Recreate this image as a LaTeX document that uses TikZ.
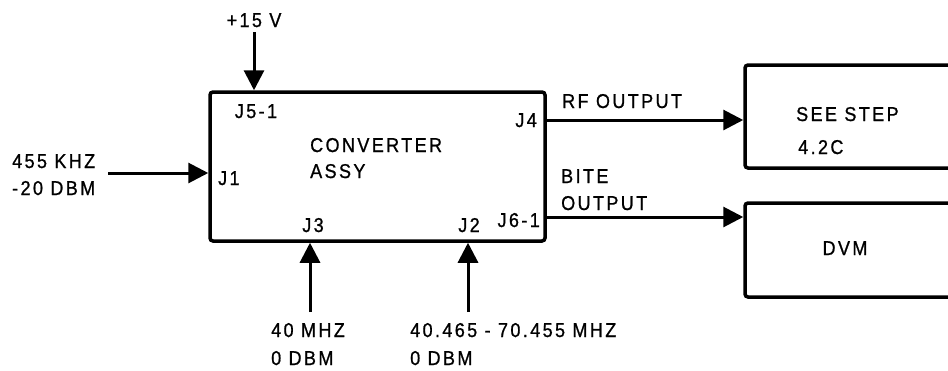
\documentclass[tikz,border=0pt]{standalone}
\usepackage{fontspec}
\setmainfont[LetterSpace=12,FakeBold=0.9,FakeStretch=0.9]{Liberation Sans}
\usetikzlibrary{arrows.meta}
\tikzset{
  lbl/.style={inner sep=0pt, font=\fontsize{20}{24}\selectfont},
  blk/.style={draw, line width=3.5pt, rounded corners=3pt, inner sep=0pt},
  sig/.style={line width=3pt, -{Triangle[length=20pt,width=20pt]}}
}
\begin{document}
\begin{tikzpicture}[x=1pt,y=-1pt]
\useasboundingbox (0,0) rectangle (948,370);
\clip (0,0) rectangle (948,370);
% blocks
\node[blk, minimum width=335pt, minimum height=149pt] (conv) at (377.5,166.5) {};
\node[blk, minimum width=260pt, minimum height=103pt] (step) at (875,116.5) {};
\node[blk, minimum width=260pt, minimum height=94pt] (dvm) at (875,250) {};
% free ends
\coordinate (p15) at (254,32);
\coordinate (pj1) at (108,173);
\coordinate (pj3) at (310,312);
\coordinate (pj2) at (468,312);
\coordinate (pj4) at (545,120);
\coordinate (pj6) at (545,217);
% connectors
\draw[sig] (p15) -- (p15 |- conv.north);
\draw[sig] (pj1) -- (pj1 -| conv.west);
\draw[sig] (pj3) -- (pj3 |- conv.south);
\draw[sig] (pj2) -- (pj2 |- conv.south);
\draw[sig] (pj4) -- (pj4 -| step.west);
\draw[sig] (pj6) -- (pj6 -| dvm.west);
% labels
\node[lbl, anchor=base] (t15) at (254,27) {+15 V};
\node[lbl, anchor=base] (tj51) at (256,118) {J5-1};
\node[lbl, anchor=base west] (t455) at (12,168) {455 KHZ};
\node[lbl, anchor=base west] (t20) at (12,195) {-20 DBM};
\node[lbl, anchor=base west] (tj1) at (218,185) {J1};
\node[lbl, anchor=base west] (tconv) at (310,152) {CONVERTER};
\node[lbl, anchor=base west] (tassy) at (310,178) {ASSY};
\node[lbl, anchor=base east] (tj4) at (537,127) {J4};
\node[lbl, anchor=base west] (trf) at (562,108) {RF OUTPUT};
\node[lbl, anchor=base west] (tsee) at (796,121) {SEE STEP};
\node[lbl, anchor=base west] (t42c) at (798,154) {4.2C};
\node[lbl, anchor=base west] (tbite) at (561,183) {BITE};
\node[lbl, anchor=base west] (tout) at (561,210) {OUTPUT};
\node[lbl, anchor=base east] (tj6) at (540,227) {J6-1};
\node[lbl, anchor=base] (tdvm) at (845,255) {DVM};
\node[lbl, anchor=base] (tj3) at (313,232) {J3};
\node[lbl, anchor=base] (tj2) at (469,232) {J2};
\node[lbl, anchor=base west] (t40) at (271,337) {40 MHZ};
\node[lbl, anchor=base west] (t0a) at (271,365) {0 DBM};
\node[lbl, anchor=base west] (t40465) at (410,337) {40.465 - 70.455 MHZ};
\node[lbl, anchor=base west] (t0b) at (410,365) {0 DBM};
\end{tikzpicture}
\end{document}
